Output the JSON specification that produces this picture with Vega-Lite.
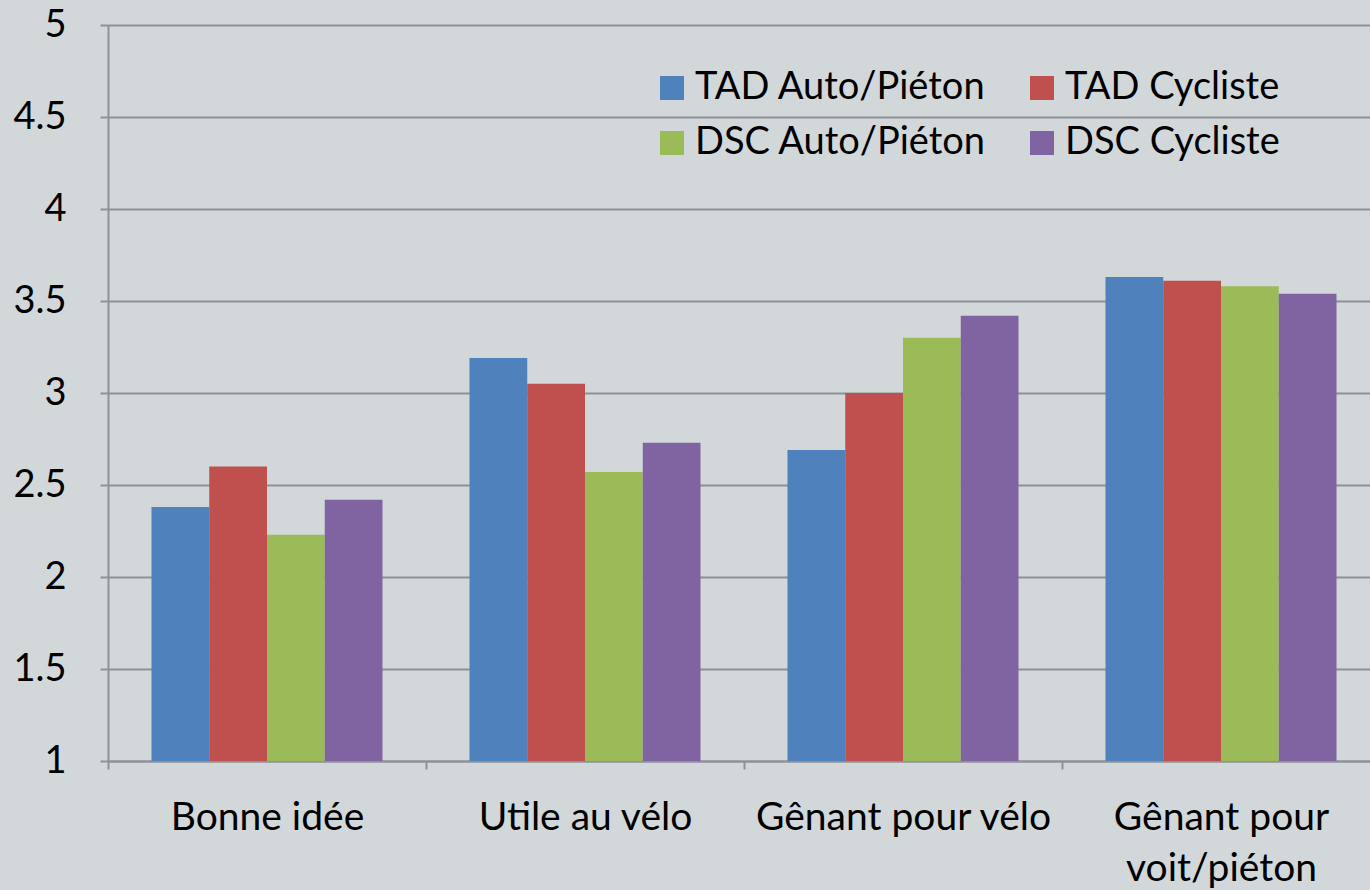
{
  "$schema": "https://vega.github.io/schema/vega-lite/v6.json",
  "width": 1262,
  "height": 736,
  "autosize": "none",
  "padding": {"left": 108, "top": 25, "right": 0, "bottom": 129},
  "background": "#D2D7DA",
  "config": {"view": {"stroke": null}, "font": "Lato"},
  "data": {
    "values": [
      {"category": "Bonne idée", "series": "TAD Auto/Piéton", "value": 2.38},
      {"category": "Bonne idée", "series": "TAD Cycliste", "value": 2.60},
      {"category": "Bonne idée", "series": "DSC Auto/Piéton", "value": 2.23},
      {"category": "Bonne idée", "series": "DSC Cycliste", "value": 2.42},
      {"category": "Utile au vélo", "series": "TAD Auto/Piéton", "value": 3.19},
      {"category": "Utile au vélo", "series": "TAD Cycliste", "value": 3.05},
      {"category": "Utile au vélo", "series": "DSC Auto/Piéton", "value": 2.57},
      {"category": "Utile au vélo", "series": "DSC Cycliste", "value": 2.73},
      {"category": "Gênant pour vélo", "series": "TAD Auto/Piéton", "value": 2.69},
      {"category": "Gênant pour vélo", "series": "TAD Cycliste", "value": 3.00},
      {"category": "Gênant pour vélo", "series": "DSC Auto/Piéton", "value": 3.30},
      {"category": "Gênant pour vélo", "series": "DSC Cycliste", "value": 3.42},
      {"category": "Gênant pour voit/piéton", "series": "TAD Auto/Piéton", "value": 3.63},
      {"category": "Gênant pour voit/piéton", "series": "TAD Cycliste", "value": 3.61},
      {"category": "Gênant pour voit/piéton", "series": "DSC Auto/Piéton", "value": 3.58},
      {"category": "Gênant pour voit/piéton", "series": "DSC Cycliste", "value": 3.54}
    ]
  },
  "mark": {"type": "bar"},
  "encoding": {
    "x": {
      "field": "category",
      "type": "nominal",
      "sort": ["Bonne idée", "Utile au vélo", "Gênant pour vélo", "Gênant pour voit/piéton"],
      "scale": {"range": [0, 1272], "paddingInner": 0, "paddingOuter": 0},
      "axis": {
        "title": null,
        "tickBand": "extent",
        "tickSize": 8,
        "tickWidth": 2,
        "tickColor": "#8E9296",
        "domainColor": "#8E9296",
        "domainWidth": 2,
        "labelFontSize": 39,
        "labelColor": "#000000",
        "labelPadding": 29,
        "labelAngle": 0,
        "labelOverlap": false,
        "labelLimit": 0,
        "labelLineHeight": 51,
        "labelExpr": "datum.value == 'Gênant pour voit/piéton' ? ['Gênant pour', 'voit/piéton'] : datum.value",
        "grid": false
      }
    },
    "xOffset": {
      "field": "series",
      "type": "nominal",
      "sort": ["TAD Auto/Piéton", "TAD Cycliste", "DSC Auto/Piéton", "DSC Cycliste"],
      "scale": {"paddingInner": 0, "paddingOuter": 0.753}
    },
    "y": {
      "field": "value",
      "type": "quantitative",
      "scale": {"domain": [1, 5], "zero": false, "nice": false},
      "axis": {
        "title": null,
        "values": [1, 1.5, 2, 2.5, 3, 3.5, 4, 4.5, 5],
        "format": "~g",
        "grid": true,
        "gridColor": "#8E9296",
        "gridWidth": 2,
        "domainColor": "#8E9296",
        "domainWidth": 2,
        "tickColor": "#8E9296",
        "tickWidth": 2,
        "tickSize": 8,
        "labelFontSize": 38,
        "labelColor": "#000000",
        "labelPadding": 34
      }
    },
    "y2": {"datum": 1},
    "color": {
      "field": "series",
      "type": "nominal",
      "sort": ["TAD Auto/Piéton", "TAD Cycliste", "DSC Auto/Piéton", "DSC Cycliste"],
      "scale": {
        "domain": ["TAD Auto/Piéton", "TAD Cycliste", "DSC Auto/Piéton", "DSC Cycliste"],
        "range": ["#4F81BD", "#C0504D", "#9BBB59", "#8064A2"]
      },
      "legend": {
        "orient": "none",
        "legendX": 545,
        "legendY": 44,
        "columns": 2,
        "direction": "horizontal",
        "title": null,
        "symbolType": "square",
        "symbolSize": 576,
        "symbolStrokeWidth": 0,
        "labelFontSize": 38,
        "labelColor": "#000000",
        "labelOffset": 4,
        "labelLimit": 0,
        "rowPadding": 17,
        "columnPadding": 36,
        "padding": 0
      }
    }
  }
}
